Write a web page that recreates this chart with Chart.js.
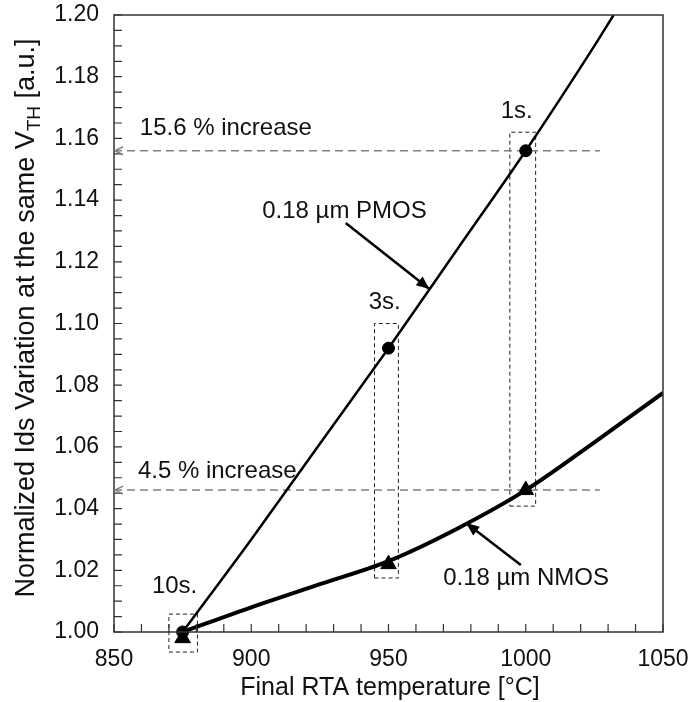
<!DOCTYPE html>
<html>
<head>
<meta charset="utf-8">
<script src="https://cdn.jsdelivr.net/npm/chart.js@4"></script>
<style>
  body { margin: 0; background: #fff; }
  #wrap { width: 693px; height: 702px; }
</style>
</head>
<body>
<div id="wrap"><canvas id="chart" width="693" height="702"></canvas></div>
<script>
// measured points (RTA time 10s, 3s, 1s)
var tempPoints = [875, 950, 1000];
var pmosPoints = [1.000, 1.092, 1.156];
var nmosPoints = [0.998, 1.022, 1.046];

// fitted curves
var pmosFitX = [875, 900, 925, 950, 975, 1000, 1025, 1032];
var pmosFitY = [1.000, 1.030, 1.061, 1.092, 1.124, 1.156, 1.190, 1.200];
var nmosFitX = [875, 900, 925, 950, 975, 1000, 1025, 1050];
var nmosFitY = [1.000, 1.008, 1.0155, 1.023, 1.0335, 1.046, 1.0615, 1.0775];

// dashed boxes around the points
var boxX = [[870, 880.4], [944.9, 953.6], [994.2, 1003.6]];
var boxY = [[0.9935, 1.0058], [1.0175, 1.100], [1.0408, 1.162]];

// increase reference levels
var levelY = [1.156, 1.046];
var levelX = [850, 1027];

var xTicks = [850, 900, 950, 1000, 1050];
var yTicks = [1.00, 1.02, 1.04, 1.06, 1.08, 1.10, 1.12, 1.14, 1.16, 1.18, 1.20];

var FONT = '"Liberation Sans", Arial, sans-serif';

function xy(xs, ys) {
    return xs.map(function (x, i) { return { x: x, y: ys[i] }; });
}

var datasets = [];
datasets.push({ label: 'PMOS fit', data: xy(pmosFitX, pmosFitY), borderColor: '#000', borderWidth: 2.5,
    pointRadius: 0, showLine: true, cubicInterpolationMode: 'monotone', order: 3 });
datasets.push({ label: 'NMOS fit', data: xy(nmosFitX, nmosFitY), borderColor: '#000', borderWidth: 4,
    pointRadius: 0, showLine: true, cubicInterpolationMode: 'monotone', order: 3 });

levelY.forEach(function (v) {
    datasets.push({ data: [{ x: levelX[0], y: v }, { x: levelX[1], y: v }], borderColor: '#808080',
        borderWidth: 1.5, borderDash: [8, 5], pointRadius: 0, showLine: true, order: 4 });
});
boxX.forEach(function (bx, i) {
    var by = boxY[i];
    datasets.push({ data: [{ x: bx[0], y: by[0] }, { x: bx[1], y: by[0] }, { x: bx[1], y: by[1] },
        { x: bx[0], y: by[1] }, { x: bx[0], y: by[0] }], borderColor: '#222', borderWidth: 1,
        borderDash: [4, 3], pointRadius: 0, showLine: true, clip: false, order: 4 });
});

datasets.push({ label: 'NMOS', data: xy(tempPoints, nmosPoints), pointStyle: 'triangle', pointRadius: 9,
    backgroundColor: '#000', borderColor: '#000', showLine: false, clip: false, order: 1 });
datasets.push({ label: 'PMOS', data: xy(tempPoints, pmosPoints), pointStyle: 'circle', pointRadius: 6,
    backgroundColor: '#000', borderColor: '#000', showLine: false, clip: false, order: 0 });

// texts and arrows in data units
var notes = [
    { text: '15.6 % increase', x: 859.4, y: 1.1611 },
    { text: '4.5 % increase', x: 858.7, y: 1.0499 },
    { text: '1s.', x: 990.9, y: 1.1666 },
    { text: '3s.', x: 942.8, y: 1.1047 },
    { text: '10s.', x: 863.8, y: 1.0126 },
    { text: '0.18 \u00b5m PMOS', x: 904, y: 1.1342 },
    { text: '0.18 \u00b5m NMOS', x: 969.9, y: 1.0152 }
];
var arrows = [
    { x0: 934.4, y0: 1.1326, x1: 964.9, y1: 1.1112 },
    { x0: 998.2, y0: 1.0217, x1: 978.3, y1: 1.0353 }
];

function arrowHead(ctx, x0, y0, x1, y1, len, half) {
    var ang = Math.atan2(y1 - y0, x1 - x0);
    ctx.beginPath();
    ctx.moveTo(x1, y1);
    ctx.lineTo(x1 - len * Math.cos(ang) + half * Math.sin(ang), y1 - len * Math.sin(ang) - half * Math.cos(ang));
    ctx.lineTo(x1 - len * Math.cos(ang) - half * Math.sin(ang), y1 - len * Math.sin(ang) + half * Math.cos(ang));
    ctx.closePath();
    ctx.fill();
}

// keep the plot box where the original has it
function fixPadding(scale) {
    scale.paddingTop = 0;
    scale.paddingBottom = 0;
    scale.paddingLeft = 0;
    scale.paddingRight = 0;
}

var decor = {
    id: 'decor',
    afterDatasetsDraw: function (chart) {
        var ctx = chart.ctx, xs = chart.scales.x, ys = chart.scales.y, a = chart.chartArea;
        ctx.save();

        // frame
        ctx.strokeStyle = '#333';
        ctx.lineWidth = 1.5;
        ctx.strokeRect(a.left, a.top, a.right - a.left, a.bottom - a.top);

        // inward ticks
        ctx.lineWidth = 1.2;
        ctx.beginPath();
        for (var i = 0; i <= 20; i++) {
            var px = xs.getPixelForValue(850 + i * 10);
            ctx.moveTo(px, a.bottom);
            ctx.lineTo(px, a.bottom - 8);
        }
        for (var j = 0; j <= 40; j++) {
            var py = ys.getPixelForValue(1 + j * 0.005);
            ctx.moveTo(a.left, py);
            ctx.lineTo(a.left + 8, py);
        }
        ctx.stroke();

        // open arrow tips of the level lines
        ctx.strokeStyle = '#808080';
        ctx.lineWidth = 1.5;
        levelY.forEach(function (v) {
            var px = xs.getPixelForValue(levelX[0]) + 1, py = ys.getPixelForValue(v);
            ctx.beginPath();
            ctx.moveTo(px + 8, py - 4);
            ctx.lineTo(px, py);
            ctx.lineTo(px + 8, py + 4);
            ctx.stroke();
        });

        // annotation arrows
        ctx.strokeStyle = '#000';
        ctx.fillStyle = '#000';
        ctx.lineWidth = 2.5;
        arrows.forEach(function (ar) {
            var x0 = xs.getPixelForValue(ar.x0), y0 = ys.getPixelForValue(ar.y0);
            var x1 = xs.getPixelForValue(ar.x1), y1 = ys.getPixelForValue(ar.y1);
            ctx.beginPath();
            ctx.moveTo(x0, y0);
            ctx.lineTo(x1, y1);
            ctx.stroke();
            arrowHead(ctx, x0, y0, x1, y1, 13, 5.5);
        });

        // texts
        ctx.font = '24px ' + FONT;
        ctx.fillStyle = '#111';
        ctx.textAlign = 'left';
        ctx.textBaseline = 'alphabetic';
        notes.forEach(function (n) {
            ctx.fillText(n.text, xs.getPixelForValue(n.x), ys.getPixelForValue(n.y));
        });

        // x title
        ctx.font = '25px ' + FONT;
        ctx.textAlign = 'center';
        ctx.fillText('Final RTA temperature [\u00b0C]', 390, 695);

        // y title with subscript
        var p1 = 'Normalized Ids Variation at the same V', sub = 'TH', p2 = ' [a.u.]';
        ctx.font = '27px ' + FONT;
        var w1 = ctx.measureText(p1).width, w3 = ctx.measureText(p2).width;
        ctx.font = '19px ' + FONT;
        var w2 = ctx.measureText(sub).width;
        var total = w1 + w2 + w3;
        ctx.translate(34, 318);
        ctx.rotate(-Math.PI / 2);
        ctx.textAlign = 'left';
        ctx.font = '27px ' + FONT;
        ctx.fillText(p1, -total / 2, 0);
        ctx.font = '19px ' + FONT;
        ctx.fillText(sub, -total / 2 + w1, 6);
        ctx.font = '27px ' + FONT;
        ctx.fillText(p2, -total / 2 + w1 + w2, 0);

        ctx.restore();
    }
};

new Chart(document.getElementById('chart'), {
    type: 'scatter',
    data: { datasets: datasets },
    options: {
        responsive: false,
        animation: false,
        layout: { padding: { left: 0, top: 15, right: 30, bottom: 0 } },
        plugins: { legend: { display: false }, tooltip: { enabled: false } },
        scales: {
            x: {
                type: 'linear', min: 850, max: 1050,
                afterFit: function (scale) { scale.height = 70; fixPadding(scale); },
                afterBuildTicks: function (scale) { scale.ticks = xTicks.map(function (v) { return { value: v }; }); },
                grid: { display: false, drawTicks: false },
                border: { display: false },
                ticks: { padding: 14, color: '#111', font: { family: FONT, size: 23 },
                    callback: function (v) { return String(v); } }
            },
            y: {
                type: 'linear', min: 1.0, max: 1.2,
                afterFit: function (scale) { scale.width = 114; fixPadding(scale); },
                afterBuildTicks: function (scale) { scale.ticks = yTicks.map(function (v) { return { value: v }; }); },
                grid: { display: false, drawTicks: false },
                border: { display: false },
                ticks: { padding: 15, color: '#111', font: { family: FONT, size: 23 },
                    callback: function (v) { return v.toFixed(2); } }
            }
        }
    },
    plugins: [decor]
});
</script>
</body>
</html>
